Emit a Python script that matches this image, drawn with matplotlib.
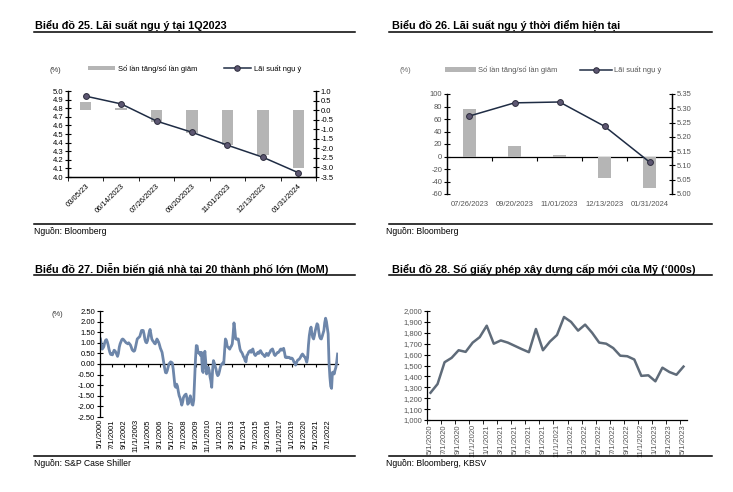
"""Four-panel rate / housing chart (Biểu đồ 25-28)."""
import matplotlib

matplotlib.use("Agg")
import matplotlib.pyplot as plt
import numpy as np
import pandas as pd
from matplotlib import font_manager
from matplotlib.lines import Line2D
from matplotlib.patches import Patch
from matplotlib.ticker import FuncFormatter

W, H = 733, 492

# ---- data -----------------------------------------------------------------
p1_dates = ["03/05/23", "06/14/2023", "07/26/2023", "09/20/2023",
            "11/01/2023", "12/13/2023", "01/31/2024"]
p1_moves = [0.45, 0.12, -0.60, -1.20, -1.80, -2.35, -3.05]
p1_rate = [4.94, 4.85, 4.65, 4.52, 4.37, 4.23, 4.05]

p2_dates = ["07/26/2023", "09/20/2023", "11/01/2023", "12/13/2023", "01/31/2024"]
p2_moves = [76, 17, 2, -34, -51]
p2_rate = [5.273, 5.319, 5.322, 5.237, 5.112]

# S&P Case Shiller 20-city MoM (%), monthly from 5/2000
p3_start = "2000-05-01"
p3_mom = [
    1.18, 0.95, 0.70, 0.75, 0.82, 1.00, 1.12, 1.15, 1.05, 0.90, 0.70, 0.55,
    0.45, 0.50, 0.43, 0.55, 0.65, 0.62, 0.55, 0.45, 0.36, 0.50, 0.79, 0.95,
    1.05, 1.15, 1.18, 1.15, 1.10, 1.05, 1.00, 0.98, 0.95, 1.00, 0.95, 0.90,
    0.80, 0.68, 0.63, 0.60, 0.63, 0.80, 1.00, 1.18, 1.22, 1.26, 1.30, 1.45,
    1.58, 1.55, 1.58, 1.40, 1.15, 1.03, 1.00, 1.10, 1.30, 1.50, 1.63, 1.40,
    1.18, 1.10, 1.05, 0.98, 0.95, 1.05, 1.18, 1.10, 1.03, 0.90, 0.75, 0.65,
    0.55, 0.30, 0.05, -0.20, -0.40, -0.42, -0.32, -0.15, 0.00, 0.05, 0.10, 0.08,
    0.05, -0.24, -0.65, -1.03, -1.10, -0.95, -1.05, -1.30, -1.50, -1.60, -1.75, -1.94,
    -1.80, -1.58, -1.50, -1.45, -1.42, -1.60, -1.90, -1.85, -1.65, -1.50, -1.70, -1.90,
    -1.94, -1.70, -0.71, 0.20, 0.87, 0.85, 0.55, 0.50, 0.55, 0.40, 0.55, -0.30,
    -0.40, 0.30, 0.60, 0.10, -0.47, -0.35, -0.16, -0.30, -0.60, -0.80, -1.10, -0.30,
    0.16, 0.05, -0.10, -0.24, -0.45, -0.55, -0.50, -0.35, -0.16, -0.05, 0.00, 0.05,
    0.00, 0.60, 1.18, 1.10, 0.85, 0.79, 0.75, 0.70, 0.79, 0.85, 0.95, 1.40,
    1.94, 1.60, 1.18, 1.20, 1.15, 1.18, 0.95, 0.71, 0.60, 0.55, 0.47, 0.35,
    0.30, 0.16, 0.10, 0.40, 0.45, 0.55, 0.60, 0.63, 0.55, 0.65, 0.71, 0.55,
    0.45, 0.40, 0.45, 0.50, 0.55, 0.50, 0.60, 0.63, 0.55, 0.48, 0.45, 0.40,
    0.35, 0.40, 0.50, 0.47, 0.40, 0.50, 0.55, 0.65, 0.68, 0.71, 0.60, 0.45,
    0.40, 0.45, 0.50, 0.55, 0.55, 0.60, 0.68, 0.71, 0.65, 0.70, 0.74, 0.55,
    0.32, 0.30, 0.33, 0.30, 0.32, 0.30, 0.25, 0.28, 0.27, 0.20, 0.10, 0.05,
    -0.05, 0.05, 0.16, 0.20, 0.22, 0.27, 0.35, 0.42, 0.47, 0.42, 0.35, 0.32,
    0.20, 0.08, 0.30, 0.90, 1.34, 1.60, 1.74, 1.45, 1.25, 1.18, 1.35, 1.58,
    1.75, 1.90, 1.85, 1.55, 1.30, 1.20, 1.18, 1.30, 1.45, 1.58, 1.95, 2.16,
    2.00, 1.70, 1.42, 0.10, -0.60, -1.05, -1.15, -0.40, -0.38, -0.47, -0.30, -0.16,
    0.10, 0.47,
]
p3_ticklabels = ["5/1/2000", "7/1/2001", "9/1/2002", "11/1/2003", "1/1/2005",
                 "3/1/2006", "5/1/2007", "7/1/2008", "9/1/2009", "11/1/2010",
                 "1/1/2012", "3/1/2013", "5/1/2014", "7/1/2015", "9/1/2016",
                 "11/1/2017", "1/1/2019", "3/1/2020", "5/1/2021", "7/1/2022"]

# New US building permits ('000s), monthly from 5/2020
p4_start = "2020-05-01"
p4_permits = [1250, 1330, 1530, 1570, 1640, 1625, 1710, 1760, 1865, 1700,
              1730, 1710, 1680, 1650, 1622, 1835, 1640, 1720, 1780, 1945,
              1900, 1820, 1875, 1800, 1710, 1700, 1660, 1590, 1585, 1555,
              1405, 1410, 1355, 1480, 1440, 1415, 1490]

# ---- style ----------------------------------------------------------------
names = {f.name for f in font_manager.fontManager.ttflist}
base = "Liberation Sans Narrow" if "Liberation Sans Narrow" in names else "Liberation Sans"
plt.rcParams["font.family"] = [base, "DejaVu Sans"]
plt.rcParams["axes.linewidth"] = 0.9
plt.rcParams["axes.unicode_minus"] = False

BAR = "#b5b5b5"
NAVY = "#1f2c44"
DOT = "#5d5772"
BLUE = "#6d86aa"
SLATE = "#5f6b79"
TICK = 5.5


def rect(l, t, r, b):
    return [l / W, 1 - b / H, (r - l) / W, (b - t) / H]


def fig_line(fig, x0, x1, y, lw=1.1):
    fig.add_artist(Line2D([x0 / W, x1 / W], [1 - y / H, 1 - y / H],
                          transform=fig.transFigure, color="black", lw=lw))


def fig_text(fig, x, y, s, **kw):
    fig.text(x / W, 1 - y / H, s, va="center", ha="left", **kw)


def month_labels(start, n):
    d = pd.date_range(start, periods=n, freq="MS")
    return [f"{t.month}/1/{t.year}" for t in d]


fig = plt.figure(figsize=(W / 100, H / 100), dpi=100)

# headers and footers
fig_text(fig, 35, 25, "Biểu đồ 25. Lãi suất ngụ ý tại 1Q2023", fontsize=7.8, fontweight="bold")
fig_text(fig, 392, 25, "Biểu đồ 26. Lãi suất ngụ ý thời điểm hiện tại", fontsize=7.8, fontweight="bold")
fig_text(fig, 35, 269, "Biểu đồ 27. Diễn biến giá nhà tại 20 thành phố lớn (MoM)", fontsize=7.8, fontweight="bold")
fig_text(fig, 392, 269, "Biểu đồ 28. Số giấy phép xây dựng cấp mới của Mỹ (‘000s)", fontsize=7.8, fontweight="bold")
for x0, x1 in [(34, 355), (389, 712)]:
    fig_line(fig, x0, x1, 32)
    fig_line(fig, x0, x1, 224)
    fig_line(fig, x0, x1, 275)
    fig_line(fig, x0, x1, 456)
fig_text(fig, 34, 232, "Nguồn: Bloomberg", fontsize=6.2)
fig_text(fig, 386, 232, "Nguồn: Bloomberg", fontsize=6.2)
fig_text(fig, 34, 464, "Nguồn: S&P Case Shiller", fontsize=6.2)
fig_text(fig, 386, 464, "Nguồn: Bloomberg, KBSV", fontsize=6.2)
fig_text(fig, 50, 70, "(%)", fontsize=5.4, color="#333333")
fig_text(fig, 399, 71, "(%)", fontsize=5.4, color="#666666")
fig_text(fig, 51, 315, "(%)", fontsize=5.4, color="#333333")

legend_items = [Patch(facecolor=BAR, edgecolor="none", label="Số lần tăng/số lần giảm"),
                Line2D([], [], color=NAVY, lw=1.1, marker="o", ms=4, mfc=DOT,
                       mec="#2b2b3b", mew=0.7, label="Lãi suất ngụ ý")]

# ---- panel 1 --------------------------------------------------------------
ax1 = fig.add_axes(rect(68, 91, 316, 177))
tw1 = ax1.twinx()
x1 = np.arange(len(p1_dates))
tw1.bar(x1, p1_moves, width=0.32, color=BAR)
ax1.plot(x1, p1_rate, color=NAVY, lw=1.1, marker="o", ms=4.2, mfc=DOT, mec="#2b2b3b", mew=0.7)
ax1.set_zorder(tw1.get_zorder() + 1)
ax1.patch.set_visible(False)
ax1.set_xlim(-0.5, len(p1_dates) - 0.5)
ax1.set_ylim(4.0, 5.0)
ax1.set_yticks(np.arange(4.0, 5.01, 0.1))
ax1.yaxis.set_major_formatter(FuncFormatter(lambda v, _: f"{v:.1f}"))
tw1.set_ylim(-3.5, 1.0)
tw1.set_yticks(np.arange(-3.5, 1.01, 0.5))
tw1.yaxis.set_major_formatter(FuncFormatter(lambda v, _: f"{v:.1f}"))
ax1.set_xticks(x1)
ax1.set_xticklabels(p1_dates, rotation=45, ha="right", va="top", rotation_mode="anchor")
ax1.set_xticks(np.arange(-0.5, len(p1_dates), 1.0), minor=True)
ax1.tick_params(axis="x", which="major", length=0, labelsize=TICK, pad=4)
ax1.tick_params(axis="x", which="minor", length=3, direction="out")
ax1.tick_params(axis="y", direction="inout", length=4, labelsize=TICK, pad=1.5)
tw1.tick_params(axis="y", direction="inout", length=4, labelsize=TICK, pad=1.5)
for a in (ax1, tw1):
    a.spines["top"].set_visible(False)
ax1.legend(handles=legend_items, loc="center", bbox_to_anchor=(0.51, 1.26), ncol=2,
           frameon=False, fontsize=5.4, handlelength=3.6, handleheight=0.6,
           columnspacing=3.5, handletextpad=0.4)

# ---- panel 2 --------------------------------------------------------------
ax2 = fig.add_axes(rect(447, 94, 672, 194))
tw2 = ax2.twinx()
x2 = np.arange(len(p2_dates))
ax2.bar(x2, p2_moves, width=0.31, color=BAR)
tw2.plot(x2, p2_rate, color=NAVY, lw=1.1, marker="o", ms=4.2, mfc=DOT, mec="#2b2b3b", mew=0.7)
ax2.set_xlim(-0.5, len(p2_dates) - 0.5)
ax2.set_ylim(-60, 100)
ax2.set_yticks(np.arange(-60, 101, 20))
tw2.set_ylim(5.00, 5.35)
tw2.set_yticks(np.arange(5.00, 5.351, 0.05))
tw2.yaxis.set_major_formatter(FuncFormatter(lambda v, _: f"{v:.2f}"))
ax2.set_xticks(x2)
ax2.set_xticklabels(p2_dates)
ax2.tick_params(axis="x", length=0, labelsize=TICK, labelcolor="#555555", pad=5)
ax2.tick_params(axis="y", direction="inout", length=4, labelsize=TICK, labelcolor="#555555", pad=1.5)
tw2.tick_params(axis="y", direction="inout", length=4, labelsize=TICK, labelcolor="#555555", pad=1.5)
for a in (ax2, tw2):
    a.spines["top"].set_visible(False)
    a.spines["bottom"].set_visible(False)
zero2 = ax2.secondary_xaxis((0 - ax2.get_ylim()[0]) / (ax2.get_ylim()[1] - ax2.get_ylim()[0]))
zero2.set_xticks(np.arange(0.5, len(p2_dates) - 0.5, 1.0))
zero2.set_xticklabels([])
zero2.tick_params(length=3, direction="out")
ax2.legend(handles=legend_items, loc="center", bbox_to_anchor=(0.47, 1.24), ncol=2,
           frameon=False, fontsize=5.4, labelcolor="#555555", handlelength=4.2,
           handleheight=0.6, columnspacing=3, handletextpad=0.3)

# ---- panel 3 --------------------------------------------------------------
ax3 = fig.add_axes(rect(100, 311, 338, 417))
m3 = month_labels(p3_start, len(p3_mom))
x3 = np.arange(len(p3_mom))
ax3.plot(x3, p3_mom, color=BLUE, lw=2.0, solid_joinstyle="round")
ax3.set_xlim(-0.5, len(p3_mom) - 0.5)
ax3.set_ylim(-2.5, 2.5)
ax3.set_yticks(np.arange(-2.5, 2.51, 0.5))
ax3.yaxis.set_major_formatter(FuncFormatter(lambda v, _: f"{v:.2f}"))
pos3 = [m3.index(s) for s in p3_ticklabels]
ax3.set_xticks(pos3)
ax3.set_xticklabels(p3_ticklabels, rotation=90, va="top")
ax3.tick_params(axis="x", length=0, labelsize=TICK, pad=1.5)
ax3.tick_params(axis="y", direction="inout", length=4, labelsize=TICK, pad=1.5)
for s in ("top", "right", "bottom"):
    ax3.spines[s].set_visible(False)
zero3 = ax3.secondary_xaxis(0.5)
zero3.set_xticks(pos3)
zero3.set_xticklabels([])
zero3.tick_params(length=2.5, direction="in")

# ---- panel 4 --------------------------------------------------------------
ax4 = fig.add_axes(rect(427, 311, 687, 420))
m4 = month_labels(p4_start, len(p4_permits))
x4 = np.arange(len(p4_permits))
ax4.plot(x4, p4_permits, color=SLATE, lw=1.8, solid_joinstyle="round")
ax4.set_xlim(-0.5, len(p4_permits) - 0.5)
ax4.set_ylim(1000, 2000)
ax4.set_yticks(np.arange(1000, 2001, 100))
ax4.yaxis.set_major_formatter(FuncFormatter(lambda v, _: f"{v:,.0f}"))
ax4.set_xticks(x4[::2])
ax4.set_xticklabels(m4[::2], rotation=90, va="top")
ax4.set_xticks(np.arange(-0.5, len(p4_permits), 2.0), minor=True)
ax4.tick_params(axis="x", which="major", length=0, labelsize=TICK, labelcolor="#555555", pad=3)
ax4.tick_params(axis="x", which="minor", length=3, direction="out")
ax4.tick_params(axis="y", direction="inout", length=4, labelsize=TICK, labelcolor="#555555", pad=1.5)
for s in ("top", "right"):
    ax4.spines[s].set_visible(False)

fig.savefig("out.png", dpi=100)
